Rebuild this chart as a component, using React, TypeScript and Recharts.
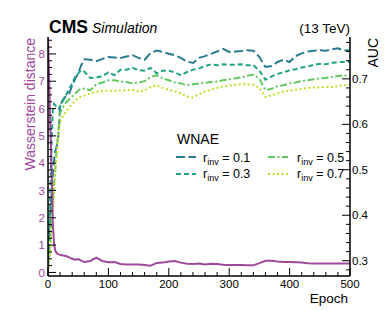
import { ComposedChart, Line, XAxis, YAxis, Legend } from "recharts";

// epochs sampled densely at the start, where everything moves fast
const epochs = [
  0, 2, 4, 6, 8, 10, 12, 14, 16, 18, 20, 25, 30, 35, 40, 45, 50, 55, 60,
  70, 80, 90, 100, 110, 120, 130, 140, 150, 160,
  170, 180, 190, 200, 210, 220, 230, 240, 250, 260,
  270, 280, 290, 300, 310, 320, 330, 340, 350, 360,
  370, 380, 390, 400, 410, 420, 430, 440, 450, 460,
  470, 480, 490, 500,
];

const wasserstein = [
  8.6, 7.0, 5.2, 3.8, 1.8, 1.05, 0.8, 0.72, 0.68, 0.66, 0.65, 0.62, 0.6, 0.55, 0.5, 0.47, 0.49, 0.43, 0.38,
  0.42, 0.54, 0.42, 0.37, 0.38, 0.31, 0.29, 0.29, 0.29, 0.27,
  0.25, 0.35, 0.36, 0.4, 0.42, 0.36, 0.32, 0.31, 0.33, 0.29,
  0.32, 0.31, 0.28, 0.27, 0.27, 0.27, 0.26, 0.26, 0.34, 0.43,
  0.43, 0.4, 0.38, 0.38, 0.37, 0.36, 0.34, 0.33, 0.33, 0.33,
  0.33, 0.33, 0.33, 0.33,
];

const aucR01 = [
  0.29, 0.33, 0.4, 0.45, 0.49, 0.52, 0.54, 0.55, 0.56, 0.59, 0.64, 0.655, 0.662, 0.668, 0.685, 0.7, 0.712, 0.73, 0.743,
  0.742, 0.739, 0.744, 0.748, 0.747, 0.746, 0.749, 0.752, 0.746, 0.742,
  0.757, 0.762, 0.759, 0.755, 0.752, 0.746, 0.738, 0.735, 0.746, 0.75,
  0.755, 0.76, 0.766, 0.759, 0.76, 0.761, 0.763, 0.762, 0.748, 0.726,
  0.728, 0.737, 0.742, 0.737, 0.75, 0.756, 0.76, 0.762, 0.763, 0.762,
  0.765, 0.767, 0.762, 0.763,
];

const aucR03 = [
  0.29, 0.36, 0.46, 0.56, 0.63, 0.645, 0.642, 0.638, 0.636, 0.634, 0.64, 0.652, 0.665, 0.678, 0.69, 0.705, 0.712, 0.719, 0.716,
  0.702, 0.703, 0.706, 0.714, 0.708, 0.72, 0.72, 0.724, 0.719, 0.718,
  0.724, 0.712, 0.718, 0.718, 0.714, 0.708, 0.715, 0.72, 0.723, 0.728,
  0.732, 0.73, 0.732, 0.731, 0.731, 0.732, 0.73, 0.73, 0.718, 0.698,
  0.705, 0.711, 0.714, 0.719, 0.721, 0.725, 0.727, 0.731, 0.733, 0.732,
  0.735, 0.737, 0.737, 0.737,
];

const aucR05 = [
  0.28, 0.31, 0.35, 0.39, 0.43, 0.47, 0.5, 0.54, 0.57, 0.6, 0.625, 0.638, 0.648, 0.655, 0.661, 0.668, 0.674, 0.679, 0.678,
  0.675, 0.688, 0.692, 0.697, 0.697, 0.694, 0.693, 0.69, 0.692, 0.695,
  0.704, 0.708, 0.701, 0.697, 0.692, 0.69, 0.686, 0.688, 0.69, 0.691,
  0.693, 0.694, 0.697, 0.699, 0.701, 0.703, 0.707, 0.709, 0.7, 0.675,
  0.678, 0.684, 0.686, 0.69, 0.692, 0.695, 0.697, 0.699, 0.701, 0.702,
  0.704, 0.706, 0.708, 0.705,
];

const aucR07 = [
  0.28, 0.3, 0.33, 0.37, 0.41, 0.45, 0.49, 0.53, 0.56, 0.585, 0.605, 0.618, 0.628, 0.637, 0.645, 0.652, 0.658, 0.661, 0.663,
  0.668, 0.671, 0.674, 0.674, 0.673, 0.675, 0.675, 0.676, 0.672, 0.674,
  0.682, 0.686, 0.68, 0.676, 0.672, 0.668, 0.661, 0.659, 0.666, 0.672,
  0.676, 0.68, 0.683, 0.685, 0.687, 0.688, 0.688, 0.687, 0.68, 0.66,
  0.664, 0.668, 0.672, 0.674, 0.676, 0.678, 0.68, 0.681, 0.681, 0.682,
  0.682, 0.684, 0.686, 0.688,
];

const xTicks = Array.from({ length: 26 }, (_, i) => i * 20);
const wTicks = Array.from({ length: 35 }, (_, i) => i * 0.25);
const aucTicks = Array.from({ length: 26 }, (_, i) => +(0.28 + i * 0.02).toFixed(2));

const PURPLE = "#9e4a9b";
const FONT = '"Liberation Sans", Arial, Helvetica, sans-serif';

const series = [
  { key: "r01", label: "0.1", color: "#2b7b8f", dash: "9 3.5" },
  { key: "r03", label: "0.3", color: "#23a386", dash: "5 3" },
  { key: "r05", label: "0.5", color: "#62c862", dash: "7 2.5 2 2.5" },
  { key: "r07", label: "0.7", color: "#c2dd2a", dash: "2 2.5" },
];

const data = epochs.map((epoch, i) => ({
  epoch,
  w: wasserstein[i],
  r01: aucR01[i],
  r03: aucR03[i],
  r05: aucR05[i],
  r07: aucR07[i],
}));

const isMult = (v: number, step: number) => Math.abs(v / step - Math.round(v / step)) < 1e-6;

function BottomTick({ x, y, payload }: any) {
  const major = isMult(payload.value, 100);
  return (
    <g>
      <line x1={x} x2={x} y1={y} y2={y - (major ? 8 : 4)} stroke="#000" />
      {major && (
        <text x={x} y={y + 12} textAnchor="middle" fontSize={11.5} fontFamily={FONT} fill="#000">
          {payload.value}
        </text>
      )}
    </g>
  );
}

function TopTick({ x, y, payload }: any) {
  const major = isMult(payload.value, 100);
  return <line x1={x} x2={x} y1={y} y2={y + (major ? 8 : 4)} stroke="#000" />;
}

function LeftTick({ x, y, payload }: any) {
  const major = isMult(payload.value, 1);
  return (
    <g>
      <line x1={x} x2={x + (major ? 8 : 4)} y1={y} y2={y} stroke="#000" />
      {major && payload.value <= 8 && (
        <text x={x - 3} y={y} dy="0.36em" textAnchor="end" fontSize={11.5} fontFamily={FONT} fill={PURPLE}>
          {payload.value}
        </text>
      )}
    </g>
  );
}

function RightTick({ x, y, payload }: any) {
  const major = isMult(payload.value, 0.1);
  return (
    <g>
      <line x1={x} x2={x - (major ? 8 : 4)} y1={y} y2={y} stroke="#000" />
      {major && (
        <text x={x + 2} y={y} dy="0.36em" textAnchor="start" fontSize={11.5} fontFamily={FONT} fill="#000">
          {payload.value.toFixed(1)}
        </text>
      )}
    </g>
  );
}

function LegendBox() {
  const cols = [
    { lx: 6, tx: 33 },
    { lx: 98, tx: 127 },
  ];
  return (
    <svg width={200} height={60} style={{ overflow: "visible" }}>
      <text x={7} y={18.5} fontSize={14} fontFamily={FONT} fill="#000">WNAE</text>
      {series.map((s, i) => {
        const c = cols[Math.floor(i / 2)];
        const ly = i % 2 === 0 ? 32 : 49;
        const ty = i % 2 === 0 ? 36.5 : 53;
        return (
          <g key={s.key}>
            <line x1={c.lx} x2={c.lx + 20} y1={ly} y2={ly} stroke={s.color} strokeWidth={2} strokeDasharray={s.dash} />
            <text x={c.tx} y={ty} fontSize={12.5} fontFamily={FONT} fill="#000">
              r
              <tspan fontSize={9} dy={3}>inv</tspan>
              <tspan fontSize={12.5} dy={-3}> = {s.label}</tspan>
            </text>
          </g>
        );
      })}
    </svg>
  );
}

export default function App() {
  return (
    <div style={{ position: "absolute", left: 0, top: 0, width: 389, height: 311, background: "#fff" }}>
      <ComposedChart width={389} height={311} data={data} margin={{ top: 37, right: 0, bottom: 0, left: 0 }}>
        <XAxis
          dataKey="epoch"
          type="number"
          domain={[0, 500]}
          ticks={xTicks}
          interval={0}
          allowDataOverflow
          height={35}
          tickSize={0}
          tickMargin={0}
          tickLine={false}
          axisLine={{ stroke: "#000", strokeWidth: 1.5 }}
          tick={<BottomTick />}
        />
        <XAxis
          xAxisId="top"
          orientation="top"
          dataKey="epoch"
          type="number"
          domain={[0, 500]}
          ticks={xTicks}
          interval={0}
          allowDataOverflow
          height={0}
          tickSize={0}
          tickMargin={0}
          tickLine={false}
          axisLine={{ stroke: "#000", strokeWidth: 1.5 }}
          tick={<TopTick />}
        />
        <YAxis
          yAxisId="w"
          type="number"
          domain={[-0.13, 8.62]}
          ticks={wTicks}
          interval={0}
          allowDataOverflow
          width={48}
          tickSize={0}
          tickMargin={0}
          tickLine={false}
          axisLine={{ stroke: "#000", strokeWidth: 1.5 }}
          tick={<LeftTick />}
        />
        <YAxis
          yAxisId="auc"
          orientation="right"
          type="number"
          domain={[0.2664, 0.792]}
          ticks={aucTicks}
          interval={0}
          allowDataOverflow
          width={39}
          tickSize={0}
          tickMargin={0}
          tickLine={false}
          axisLine={{ stroke: "#000", strokeWidth: 1.5 }}
          tick={<RightTick />}
        />
        <Legend
          layout="vertical"
          align="center"
          verticalAlign="middle"
          wrapperStyle={{ position: "absolute", left: 170, top: 125, width: 200, height: 60 }}
          content={() => <LegendBox />}
        />
        {series.map((s) => (
          <Line
            key={s.key}
            yAxisId="auc"
            type="linear"
            dataKey={s.key}
            stroke={s.color}
            strokeWidth={2}
            strokeDasharray={s.dash}
            dot={false}
            isAnimationActive={false}
          />
        ))}
        <Line
          yAxisId="w"
          type="linear"
          dataKey="w"
          stroke={PURPLE}
          strokeWidth={2}
          dot={false}
          isAnimationActive={false}
        />
      </ComposedChart>
      <svg
        width={389}
        height={311}
        style={{ position: "absolute", left: 0, top: 0, pointerEvents: "none" }}
        fontFamily={FONT}
      >
        <text x={49} y={33.3} fontSize={17.5} fontWeight="bold" fill="#000">CMS</text>
        <text x={92} y={33.3} fontSize={14} fontStyle="italic" fill="#000">Simulation</text>
        <text x={350} y={33.3} fontSize={13.5} textAnchor="end" fill="#000">(13 TeV)</text>
        <text x={348} y={302.5} fontSize={13.5} textAnchor="end" fill="#000">Epoch</text>
        <text transform="translate(35,38) rotate(-90)" fontSize={14} textAnchor="end" fill={PURPLE}>
          Wasserstein distance
        </text>
        <text transform="translate(378,38) rotate(-90)" fontSize={14} textAnchor="end" fill="#000">
          AUC
        </text>
      </svg>
    </div>
  );
}
